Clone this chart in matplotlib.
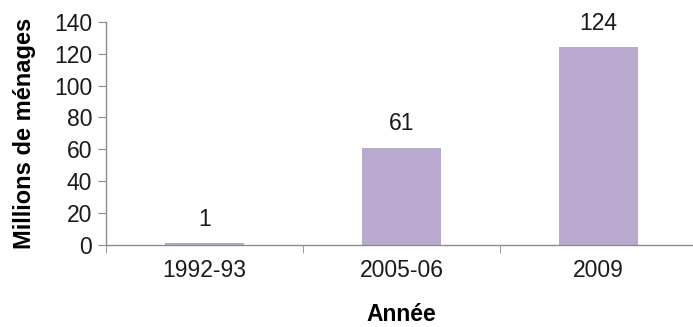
import matplotlib.pyplot as plt

plt.rcParams['font.family'] = ['Liberation Sans', 'DejaVu Sans']

categories = ['1992-93', '2005-06', '2009']
values = [1, 61, 124]
bar_color = '#B9A9CF'
axis_color = '#8C8C8C'

fig = plt.figure(figsize=(6.93, 3.27), dpi=100)
ax = fig.add_axes([0.153, 0.251, 0.853, 0.682])

x = range(len(categories))
bars = ax.bar(x, values, width=0.4, color=bar_color, zorder=2)

for xi, v in zip(x, values):
    ax.annotate(str(v), (xi, v), xytext=(0, 9), textcoords='offset points',
                ha='center', va='bottom', fontsize=16.5, color='#1a1a1a')

ax.set_xlim(-0.5, 2.5)
ax.set_ylim(0, 140)
ax.set_yticks(range(0, 141, 20))
ax.set_xticks(list(x))
ax.set_xticklabels(categories)
# tick marks sit between categories
ax.set_xticks([-0.5, 0.5, 1.5, 2.5], minor=True)
ax.tick_params(axis='x', which='major', length=0, pad=10, labelsize=16.5, labelcolor='#1a1a1a')
ax.tick_params(axis='x', which='minor', length=6, color=axis_color, direction='out')
ax.tick_params(axis='y', length=6, color=axis_color, labelsize=16.5, labelcolor='#1a1a1a', pad=4)

for side in ['top', 'right']:
    ax.spines[side].set_visible(False)
for side in ['left', 'bottom']:
    ax.spines[side].set_color(axis_color)
    ax.spines[side].set_linewidth(1)

ax.set_ylabel('Millions de ménages', fontsize=17, fontweight='bold', labelpad=13)
ax.set_xlabel('Année', fontsize=16.5, fontweight='bold', labelpad=15)

fig.savefig('out.png', dpi=100)
